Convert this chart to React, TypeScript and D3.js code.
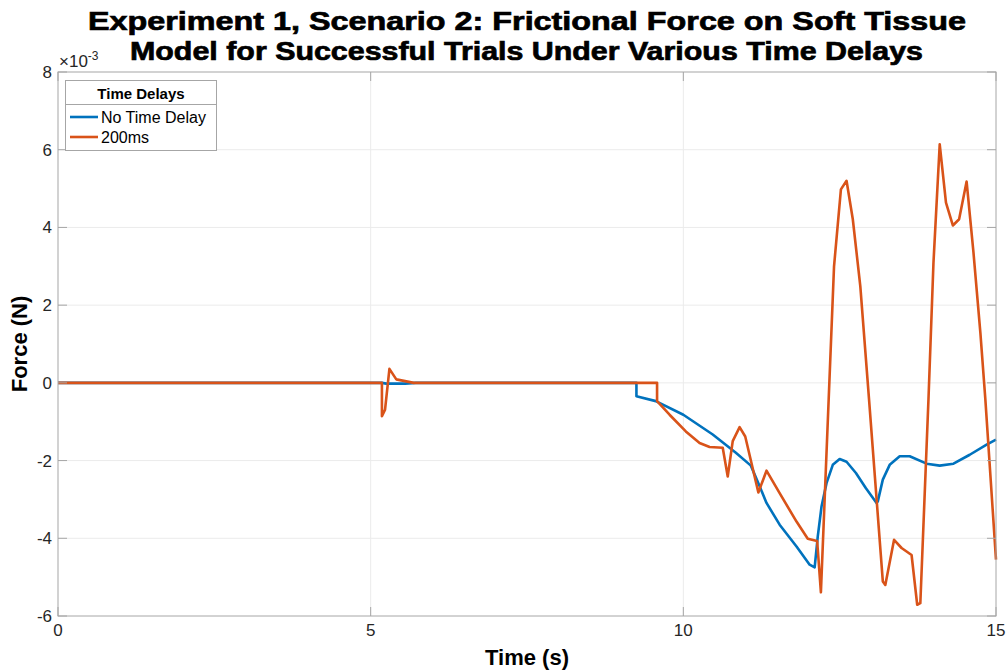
import React from "react";
import * as d3 from "d3";

const titleLines = [
  "Experiment 1, Scenario 2: Frictional Force on Soft Tissue",
  "Model for Successful Trials Under Various Time Delays",
];
const xTicks = [0, 5, 10, 15];
const yTicks = [-6, -4, -2, 0, 2, 4, 6, 8];
const seriesNames = ["No Time Delay", "200ms"];
const seriesColors = ["#0072BD", "#D95319"];

// values in 1e-3 N
const noDelayT = [0, 5.18, 5.25, 5.55, 5.72, 9.25, 9.25, 9.56, 10.0, 10.47, 10.84, 11.08, 11.22, 11.33, 11.54, 11.81, 12.02, 12.1, 12.15, 12.21, 12.29, 12.39, 12.5, 12.61, 12.76, 12.92, 13.09, 13.11, 13.19, 13.3, 13.46, 13.62, 13.89, 14.1, 14.32, 14.58, 14.85, 15];
const noDelayF = [0, 0, -0.02, -0.02, 0, 0, -0.345, -0.47, -0.82, -1.33, -1.8, -2.13, -2.66, -3.09, -3.65, -4.21, -4.68, -4.75, -3.95, -3.18, -2.58, -2.11, -1.96, -2.03, -2.32, -2.71, -3.09, -3.05, -2.49, -2.11, -1.89, -1.89, -2.08, -2.13, -2.08, -1.85, -1.59, -1.46];

const delayT = [0, 5.18, 5.18, 5.23, 5.3, 5.41, 5.69, 9.58, 9.58, 9.78, 10.04, 10.26, 10.42, 10.63, 10.71, 10.79, 10.9, 10.99, 11.2, 11.33, 11.54, 11.81, 11.99, 12.14, 12.2, 12.41, 12.52, 12.61, 12.71, 12.83, 12.97, 13.19, 13.23, 13.37, 13.49, 13.65, 13.74, 13.79, 13.92, 14.0, 14.1, 14.2, 14.31, 14.41, 14.53, 14.64, 14.75, 14.83, 15];
const delayF = [0, 0, -0.86, -0.69, 0.36, 0.09, 0, 0, -0.47, -0.82, -1.25, -1.55, -1.65, -1.67, -2.41, -1.5, -1.14, -1.38, -2.82, -2.26, -2.84, -3.57, -4.01, -4.07, -5.39, 3.0, 4.98, 5.2, 4.21, 2.49, -0.43, -5.11, -5.2, -4.04, -4.25, -4.43, -5.71, -5.67, -0.43, 3.09, 6.14, 4.64, 4.05, 4.21, 5.18, 3.35, 1.29, -0.43, -4.55];

export default function App() {
  const W = 1008, H = 671;
  const L = 58, R = 996, T = 72, B = 616;
  const x = d3.scaleLinear().domain([0, 15]).range([L, R]);
  const y = d3.scaleLinear().domain([-6, 8]).range([B, T]);
  const line = d3.line<[number, number]>().x(d => x(d[0])).y(d => y(d[1]));
  const s1 = noDelayT.map((t, i) => [t, noDelayF[i]] as [number, number]);
  const s2 = delayT.map((t, i) => [t, delayF[i]] as [number, number]);
  const font = "'Liberation Sans', Arial, Helvetica, sans-serif";
  const axisColor = "#a6a6a6";
  const titleSpans = [[88, 878], [130, 793]];
  return (
    <svg width={W} height={H} style={{ position: "absolute", left: 0, top: 0, background: "#fff" }} fontFamily={font}>
      <rect x={0} y={0} width={W} height={H} fill="#fff" />
      {xTicks.slice(1, -1).map(t => (
        <line key={"gx" + t} x1={x(t)} x2={x(t)} y1={T} y2={B} stroke="#ebebeb" strokeWidth={1} />
      ))}
      {yTicks.slice(1, -1).map(t => (
        <line key={"gy" + t} x1={L} x2={R} y1={y(t)} y2={y(t)} stroke="#ebebeb" strokeWidth={1} />
      ))}
      <path d={line(s1) || ""} fill="none" stroke={seriesColors[0]} strokeWidth={2.6} strokeLinejoin="round" />
      <path d={line(s2) || ""} fill="none" stroke={seriesColors[1]} strokeWidth={2.6} strokeLinejoin="round" />
      <rect x={L} y={T} width={R - L} height={B - T} fill="none" stroke={axisColor} strokeWidth={1} />
      {xTicks.map(t => (
        <g key={"tx" + t}>
          <line x1={x(t)} x2={x(t)} y1={B} y2={B - 9} stroke={axisColor} />
          <line x1={x(t)} x2={x(t)} y1={T} y2={T + 9} stroke={axisColor} />
          <text x={x(t)} y={B + 20} textAnchor="middle" fontSize={17} fill="#262626">{t}</text>
        </g>
      ))}
      {yTicks.map(t => (
        <g key={"ty" + t}>
          <line x1={L} x2={L + 9} y1={y(t)} y2={y(t)} stroke={axisColor} />
          <line x1={R} x2={R - 9} y1={y(t)} y2={y(t)} stroke={axisColor} />
          <text x={L - 6} y={y(t) + 6} textAnchor="end" fontSize={17} fill="#262626">{t}</text>
        </g>
      ))}
      <text x={L + 1} y={67} fontSize={17} fill="#262626">×10<tspan dy={-7} fontSize={12}>-3</tspan></text>
      {titleLines.map((s, i) => (
        <text key={i} x={titleSpans[i][0]} y={30 + i * 30} fontSize={26} fontWeight="bold" fill="#000"
          stroke="#000" strokeWidth={0.7}
          textLength={titleSpans[i][1]} lengthAdjust="spacingAndGlyphs">{s}</text>
      ))}
      <text x={527} y={665} textAnchor="middle" fontSize={22} fontWeight="bold" fill="#000">Time (s)</text>
      <text transform={`translate(27,${(T + B) / 2}) rotate(-90)`} textAnchor="middle" fontSize={22} fontWeight="bold" fill="#000">Force (N)</text>
      <g>
        <rect x={65.5} y={80.5} width={151} height={70} fill="#fff" stroke="#a6a6a6" />
        <line x1={65.5} x2={216.5} y1={104.5} y2={104.5} stroke="#a6a6a6" />
        <text x={141} y={99} textAnchor="middle" fontSize={15} fontWeight="bold" fill="#000">Time Delays</text>
        {seriesNames.map((n, i) => (
          <g key={n}>
            <line x1={70} x2={98} y1={117 + i * 20} y2={117 + i * 20} stroke={seriesColors[i]} strokeWidth={2.6} />
            <text x={101} y={123 + i * 20} fontSize={16} fill="#000">{n}</text>
          </g>
        ))}
      </g>
    </svg>
  );
}
